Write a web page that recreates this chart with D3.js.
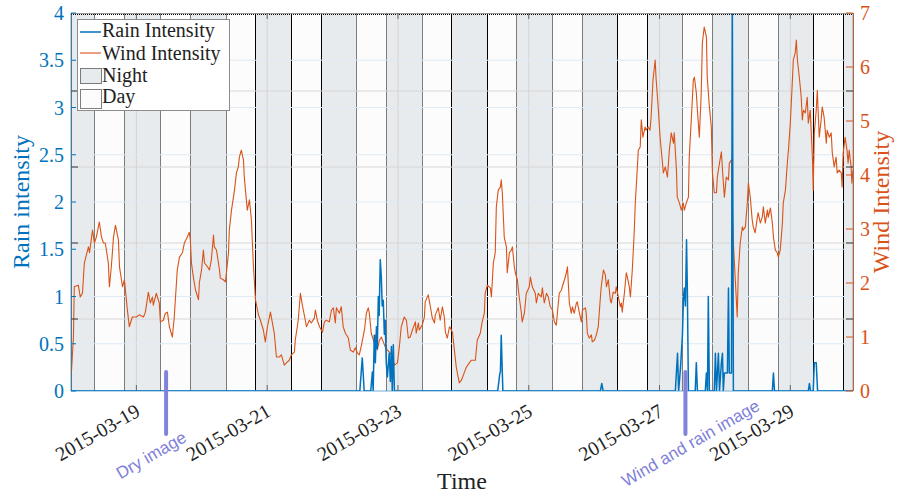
<!DOCTYPE html>
<html><head><meta charset="utf-8">
<script src="https://cdn.jsdelivr.net/npm/d3@7"></script>
<style>
body{margin:0;background:#fff;}
svg{display:block;}
</style></head><body>
<svg id="chart" width="897" height="495"></svg>
<script>
// ---------------- DATA ----------------
const startTime = "2015-03-18T00:00:00Z";
const endHour = 287; // hours after start
// wind intensity: [hours after start, value]
const windData = [
[0.1,0.30],[0.9,1.00],[1.2,1.93],[2.7,1.96],[3.4,1.74],[4.2,1.81],[4.9,2.37],[6.4,2.67],[6.8,2.56],[7.9,2.98],
[8.6,2.74],[9.3,2.85],[10.4,3.13],[11.2,2.85],[11.9,2.74],[12.6,2.74],[13.7,2.37],[14.1,1.93],[14.8,2.30],[15.6,2.85],
[16.3,3.07],[17.4,2.80],[17.8,2.30],[18.9,1.93],[19.6,2.06],[20.7,1.50],[21.4,1.19],[22.5,1.37],[24.0,1.37],[25.1,1.41],
[26.6,1.37],[27.3,1.46],[28.4,1.83],[29.1,1.63],[29.9,1.74],[30.2,1.59],[31.3,1.81],[32.4,1.63],[32.8,1.28],[33.9,1.31],
[34.6,1.44],[35.4,1.46],[36.1,1.19],[37.2,1.00],[37.9,1.37],[39.0,2.24],[39.8,2.48],[40.9,2.56],[41.6,2.74],[42.7,2.85],
[43.4,2.94],[43.8,2.80],[44.2,2.37],[44.9,2.11],[45.7,1.87],[46.8,1.69],[47.1,2.00],[47.9,2.24],[48.6,2.61],[49.0,2.37],
[50.1,2.30],[50.8,2.24],[51.5,2.43],[52.3,2.89],[52.6,2.67],[53.4,2.61],[54.5,2.24],[54.8,2.09],[55.9,2.06],[56.7,2.02],
[57.8,2.56],[58.1,2.98],[58.9,3.35],[60.0,3.72],[60.7,4.04],[61.4,4.15],[61.8,4.33],[62.5,4.46],[63.3,4.28],[63.6,3.96],
[64.7,3.35],[65.5,3.54],[66.2,3.17],[66.9,2.37],[67.7,1.69],[68.8,1.41],[69.5,1.31],[70.6,1.13],[71.3,0.91],[72.1,1.19],
[73.2,1.46],[74.6,1.07],[75.4,0.63],[76.5,0.63],[77.2,0.67],[78.3,0.48],[79.0,0.52],[80.1,0.57],[80.9,0.67],[82.0,0.72],
[82.3,0.94],[83.4,1.31],[84.2,1.81],[84.9,1.59],[86.0,1.31],[86.4,1.19],[87.5,1.31],[88.2,1.26],[89.3,1.35],[89.7,1.50],
[90.4,1.31],[91.2,1.19],[92.3,1.09],[93.0,1.28],[93.7,1.31],[94.8,1.28],[95.6,1.50],[96.3,1.54],[97.0,1.26],[97.4,1.54],
[98.5,1.44],[99.2,1.56],[99.9,1.19],[100.7,1.07],[101.8,0.98],[102.5,0.76],[103.6,0.72],[104.4,0.80],[105.1,0.70],[105.8,0.67],
[106.6,0.85],[107.7,1.13],[108.4,1.44],[109.1,1.54],[109.5,1.44],[110.2,1.07],[111.3,0.89],[111.7,1.04],[112.4,0.76],[113.2,0.94],
[113.9,1.00],[114.6,0.91],[115.4,0.81],[116.1,0.76],[117.2,0.70],[117.9,0.63],[118.7,0.48],[119.8,0.52],[120.5,0.81],[121.2,1.19],
[122.3,1.37],[123.1,1.31],[123.8,0.98],[124.5,1.00],[125.3,1.13],[126.4,1.28],[126.7,1.07],[127.5,1.26],[127.8,1.13],[128.9,1.22],
[129.7,1.37],[130.0,1.65],[131.1,1.78],[131.9,1.56],[132.6,1.35],[133.4,1.26],[133.7,1.41],[134.8,1.54],[135.5,1.31],[136.3,1.56],
[137.0,1.37],[137.4,1.09],[138.1,0.98],[138.9,1.19],[139.2,1.17],[140.0,1.09],[140.7,0.76],[141.4,0.44],[142.5,0.15],[143.3,0.20],
[144.4,0.35],[145.1,0.44],[146.2,0.52],[146.9,0.57],[148.4,0.57],[149.1,0.94],[150.2,1.07],[150.9,1.28],[151.7,1.44],[152.0,1.81],
[152.8,1.96],[153.9,1.91],[154.3,1.74],[155.0,2.37],[155.7,2.56],[156.1,3.41],[156.8,3.72],[157.6,3.78],[157.9,3.91],[158.3,3.67],
[159.0,2.85],[159.8,2.67],[160.1,2.19],[160.9,2.56],[161.6,2.61],[162.0,2.67],[162.7,2.30],[163.1,2.19],[163.8,2.06],[164.5,1.74],
[165.3,1.44],[165.6,1.28],[166.4,1.44],[167.1,1.81],[168.2,1.93],[168.6,2.11],[169.3,1.93],[170.4,1.81],[170.8,1.63],[171.5,1.81],
[172.6,1.74],[173.0,1.91],[173.7,1.63],[174.5,1.81],[175.2,1.74],[175.9,1.56],[176.7,1.50],[177.4,1.28],[178.1,1.22],[178.5,1.44],
[179.2,1.81],[180.0,1.87],[180.3,1.93],[181.1,2.06],[181.8,2.19],[182.2,2.30],[182.9,1.63],[183.6,1.44],[184.0,1.56],[184.7,1.44],
[185.5,1.63],[185.8,1.65],[186.6,1.44],[187.3,1.28],[187.7,1.50],[188.8,1.54],[189.1,1.44],[189.5,1.07],[190.2,0.98],[191.0,1.04],
[191.3,0.91],[192.1,0.94],[192.8,1.04],[193.5,1.19],[194.3,1.74],[194.6,1.93],[195.4,2.24],[196.1,2.15],[196.5,1.93],[197.2,2.06],
[197.9,1.69],[198.3,1.63],[199.0,1.83],[199.8,1.81],[200.1,1.93],[200.9,1.74],[201.6,1.56],[202.0,1.63],[202.3,1.46],[203.1,1.81],
[203.8,2.19],[204.2,2.11],[204.9,1.93],[205.3,1.74],[206.0,2.24],[206.7,2.93],[207.1,3.48],[207.8,4.09],[208.2,4.46],[208.9,4.52],
[209.3,5.02],[209.9,4.70],[210.7,4.89],[211.0,4.83],[211.8,4.89],[212.5,4.83],[212.9,5.07],[213.6,5.76],[214.4,6.13],[214.7,5.81],
[215.5,5.26],[216.2,4.70],[217.4,4.04],[218.1,4.15],[218.9,3.96],[219.6,4.46],[220.3,4.78],[221.1,4.59],[221.4,4.78],[222.2,4.09],
[222.5,3.59],[223.3,3.48],[224.0,3.35],[224.7,3.48],[225.1,3.35],[225.8,3.48],[226.6,3.59],[226.9,4.33],[227.7,5.07],[228.4,5.76],
[228.8,5.81],[229.5,5.52],[229.9,5.20],[230.6,4.70],[231.3,5.52],[231.7,6.44],[232.4,6.74],[233.2,6.56],[233.5,5.81],[234.3,5.26],
[235.0,4.89],[235.4,4.04],[236.1,3.67],[236.9,3.67],[237.2,3.96],[238.0,4.22],[238.7,4.43],[239.1,4.09],[239.8,3.59],[240.5,3.96],
[241.3,3.91],[241.6,4.22],[242.4,4.28],[242.7,3.48],[243.1,2.74],[243.8,2.06],[244.5,1.37],[244.9,2.19],[245.6,2.74],[246.4,3.04],
[246.7,2.98],[247.5,3.04],[248.2,3.48],[248.6,3.85],[249.3,3.59],[250.0,3.17],[250.4,3.04],[251.1,2.93],[251.9,3.22],[252.2,3.30],
[253.0,3.11],[253.7,3.22],[254.1,3.41],[254.8,3.11],[255.6,3.35],[255.9,3.22],[256.7,3.39],[257.4,3.11],[257.8,2.85],[258.5,2.61],
[259.2,2.56],[259.6,2.48],[260.3,2.61],[261.1,3.11],[261.4,3.48],[262.2,3.72],[262.9,4.22],[263.3,4.46],[264.0,4.96],[264.7,5.70],
[265.1,6.13],[265.8,6.26],[266.2,6.50],[266.6,6.13],[267.3,5.81],[268.0,5.44],[268.4,5.02],[268.8,5.20],[269.5,5.15],[270.2,5.44],
[270.6,4.96],[271.3,5.20],[272.1,4.33],[272.4,3.72],[272.8,4.78],[273.5,5.20],[273.9,5.57],[274.6,4.70],[275.3,5.02],[275.7,5.26],
[276.4,5.07],[277.2,4.59],[277.5,4.83],[278.3,4.70],[279.0,4.78],[279.4,4.41],[280.1,4.15],[280.8,4.33],[281.2,4.04],[281.9,4.09],
[282.7,4.04],[283.0,3.78],[283.4,4.41],[284.1,4.70],[284.8,4.46],[285.2,4.22],[285.6,4.46],[286.3,4.15],[286.6,3.85],[287.0,4.09]
];
// rain intensity: [hours after start, value]
const rainData = [
[0,0],[106.0,0],[106.9,0.35],[107.6,0],[110.0,0],[110.6,0.2],[110.9,0],[111.3,0.59],[111.7,0.3],[112.1,0.68],
[112.4,0.45],[112.8,1.0],[113.1,0.8],[113.5,1.39],[113.9,1.2],[114.2,0.9],[114.6,0.96],[115.0,0.6],[115.3,0.75],[115.7,0.3],
[116.1,0.15],[116.8,0.4],[117.2,0.1],[117.6,0.47],[117.9,0],[118.3,0.49],[118.7,0],
[156.6,0],[157.4,0.19],[157.6,0.2],[157.9,0.59],[158.5,0],
[194.3,0],[194.8,0.08],[195.3,0],
[221.8,0],[222.6,0.40],[223.0,0],[223.7,0.25],[224.4,0.59],[224.8,1.0],[225.1,1.09],[225.5,0.9],[225.9,1.60],[226.2,1.09],[226.6,0],
[229.1,0],[229.5,0.30],[229.9,0],
[232.8,0],[233.2,0.19],[233.6,0],[233.9,1.0],[234.3,0],
[236.1,0],[236.5,0.40],[236.9,0],[237.6,0.40],[238.0,0],[238.7,0.30],[239.1,0.40],[239.4,0],[239.8,0.19],[240.2,0.19],
[240.9,0.19],[241.3,1.09],[241.6,0.19],[242.4,0.19],[242.7,4.3],[243.1,0],
[257.4,0],[257.8,0.19],[258.2,0],
[270.6,0],[271.0,0.08],[271.4,0],
[272.4,0],[272.8,0.30],[273.5,0.30],[274.0,0],[287,0]
];
// sunrise / sunset (hour of day) for each of the 12 days
const sunriseHours = [8.6,8.7,8.8,8.6,8.7,8.7,8.5,8.6,8.5,8.4,8.3,8.4];
const sunsetHours  = [19.6,19.7,19.7,19.6,19.6,19.6,19.5,19.6,19.5,19.4,19.3,19.4];
const dateTicks = ["2015-03-19","2015-03-21","2015-03-23","2015-03-25","2015-03-27","2015-03-29"];
const rainTicks = [0,0.5,1,1.5,2,2.5,3,3.5,4];
const windTicks = [0,1,2,3,4,5,6,7];
const patchGridTicks = [0.2,0.4,0.6,0.8];
const annotations = [
  {label:"Dry image", hour:34.9},
  {label:"Wind and rain image", hour:225.5}
];
const legendItems = ["Rain Intensity","Wind Intensity","Night","Day"];

// ---------------- DRAW ----------------
const BLUE = "#0072BD", ORANGE = "#D95319";
const NIGHT = "#e8ebee", DAY = "#fcfcfc";
const SERIF = "'Liberation Serif','Times New Roman',serif";
const SANS = "'Liberation Sans',Arial,sans-serif";
const svg = d3.select("#chart");
const L = 71, R = 853, T = 13, B = 391;
const t0 = new Date(startTime);
const toDate = h => new Date(t0.getTime() + h * 3600e3);

const x = d3.scaleUtc().domain([toDate(0), toDate(endHour)]).range([L, R]);
const yL = d3.scaleLinear().domain([0, 4]).range([B, T]);
const yR = d3.scaleLinear().domain([0, 7]).range([B, T]);
const yG = d3.scaleLinear().domain([0, 1]).range([395, 15]);
const px = h => Math.round(x(toDate(h))) + 0.5;

svg.append("defs").append("clipPath").attr("id", "plotclip")
  .append("rect").attr("x", L).attr("y", T).attr("width", R - L).attr("height", B - T);

// patches
const patches = [];
let prev = 0;
sunriseHours.forEach((sr, i) => {
  const s = i * 24 + sr, e = i * 24 + sunsetHours[i];
  patches.push({a: prev, b: s, night: true});
  patches.push({a: s, b: e, night: false});
  prev = e;
});
patches.push({a: prev, b: endHour, night: true});

const gp = svg.append("g");
const pTop = Math.round(yL(4)) + 0.5, pBot = Math.round(yL(0)) - 0.5;
gp.selectAll("rect").data(patches).join("rect")
  .attr("x", d => px(d.a))
  .attr("y", pTop)
  .attr("width", d => px(d.b) - px(d.a))
  .attr("height", pBot - pTop)
  .attr("fill", d => d.night ? NIGHT : DAY);
// patch edges (dotted; where two dotted edges meet out of phase they read as solid)
const edges = [0].concat(patches.map(d => d.b));
gp.selectAll("line.edge").data(edges).join("line")
  .attr("x1", d => px(d)).attr("x2", d => px(d))
  .attr("y1", pTop).attr("y2", pBot)
  .attr("stroke", "#000").attr("stroke-width", 1)
  .attr("stroke-dasharray", d => (Math.round(x(toDate(d))) % 2 === 1 && d > 0 && d < endHour) ? null : "1,1");
gp.append("line").attr("x1", L).attr("x2", R).attr("y1", pTop + 1).attr("y2", pTop + 1)
  .attr("stroke", "#000").attr("stroke-width", 1).attr("stroke-dasharray", "1,1");

// grids
const gg = svg.append("g");
gg.selectAll("line.gx").data(dateTicks).join("line")
  .attr("x1", d => x(new Date(d + "T00:00:00Z"))).attr("x2", d => x(new Date(d + "T00:00:00Z")))
  .attr("y1", T).attr("y2", B).attr("stroke", "#cfcfcf").attr("stroke-width", 1).attr("opacity", 0.8);
gg.selectAll("line.gl").data(rainTicks.slice(1, -1)).join("line")
  .attr("x1", L).attr("x2", R).attr("y1", d => yL(d)).attr("y2", d => yL(d))
  .attr("stroke", "#dfeaf4").attr("stroke-width", 1);
gg.selectAll("line.gg").data(patchGridTicks).join("line")
  .attr("x1", L).attr("x2", R).attr("y1", d => yG(d)).attr("y2", d => yG(d))
  .attr("stroke", "#d6d6d6").attr("stroke-width", 1);

// lines
const gl = svg.append("g").attr("clip-path", "url(#plotclip)");
gl.append("path").datum(windData)
  .attr("d", d3.line().x(d => x(toDate(d[0]))).y(d => yR(d[1])))
  .attr("fill", "none").attr("stroke", ORANGE).attr("stroke-width", 1.1).attr("stroke-linejoin", "round");
gl.append("path").datum(rainData)
  .attr("d", d3.line().x(d => x(toDate(d[0]))).y(d => yL(d[1])))
  .attr("fill", "none").attr("stroke", BLUE).attr("stroke-width", 1.5).attr("stroke-linejoin", "round");

// axes frame
const ga = svg.append("g");
ga.append("line").attr("x1", L).attr("x2", R).attr("y1", T + 0.5).attr("y2", T + 0.5).attr("stroke", "#808080").attr("stroke-width", 0.8);
ga.append("line").attr("x1", L).attr("x2", R).attr("y1", B).attr("y2", B).attr("stroke", BLUE).attr("stroke-width", 0.8).attr("opacity", 0.7);
ga.append("line").attr("x1", L).attr("x2", L).attr("y1", T).attr("y2", B).attr("stroke", BLUE).attr("stroke-width", 0.9).attr("opacity", 0.7);
ga.append("line").attr("x1", R).attr("x2", R).attr("y1", T).attr("y2", B).attr("stroke", ORANGE).attr("stroke-width", 0.9).attr("opacity", 0.7);

// left ticks + labels
ga.selectAll("line.lt").data(rainTicks).join("line")
  .attr("x1", L).attr("x2", L + 5).attr("y1", d => yL(d)).attr("y2", d => yL(d))
  .attr("stroke", BLUE).attr("stroke-width", 1);
ga.selectAll("text.ll").data(rainTicks).join("text")
  .attr("x", L - 7).attr("y", d => yL(d)).attr("dy", "0.35em")
  .attr("text-anchor", "end").attr("font-family", SERIF).attr("font-size", 20)
  .attr("fill", BLUE).text(d => d3.format("")(d));
// right ticks + labels
ga.selectAll("line.rt").data(windTicks).join("line")
  .attr("x1", R).attr("x2", R - 7).attr("y1", d => yR(d)).attr("y2", d => yR(d))
  .attr("stroke", ORANGE).attr("stroke-width", 1);
ga.selectAll("text.rl").data(windTicks).join("text")
  .attr("x", R + 7).attr("y", d => yR(d)).attr("dy", "0.35em")
  .attr("text-anchor", "start").attr("font-family", SERIF).attr("font-size", 20)
  .attr("fill", ORANGE).text(d => d);
// patch-axis ticks
[L, R].forEach((p, i) => {
  ga.selectAll("line.pt" + i).data(patchGridTicks).join("line")
    .attr("x1", p).attr("x2", i ? p - 7 : p + 7).attr("y1", d => yG(d)).attr("y2", d => yG(d))
    .attr("stroke", "#333").attr("stroke-width", 1);
});
// x ticks
dateTicks.forEach(d => {
  const tx = x(new Date(d + "T00:00:00Z"));
  ga.append("line").attr("x1", tx).attr("x2", tx).attr("y1", T).attr("y2", T + 6).attr("stroke", "#666");
  ga.append("line").attr("x1", tx).attr("x2", tx).attr("y1", B).attr("y2", B - 6).attr("stroke", "#666");
  ga.append("text").attr("transform", `translate(${tx + 5},${B + 24}) rotate(-30)`)
    .attr("text-anchor", "end").attr("font-family", SERIF).attr("font-size", 20)
    .attr("fill", "#222").text(d);
});

// axis titles
svg.append("text").attr("transform", `translate(21,${(T + B) / 2}) rotate(-90)`)
  .attr("text-anchor", "middle").attr("dy", "0.35em").attr("font-family", SERIF).attr("font-size", 24)
  .attr("fill", BLUE).text("Rain intensity");
svg.append("text").attr("transform", `translate(881,${(T + B) / 2}) rotate(-90)`)
  .attr("text-anchor", "middle").attr("dy", "0.35em").attr("font-family", SERIF).attr("font-size", 24)
  .attr("fill", ORANGE).text("Wind Intensity");
svg.append("text").attr("x", (L + R) / 2).attr("y", 489)
  .attr("text-anchor", "middle").attr("font-family", SERIF).attr("font-size", 24)
  .attr("fill", "#222").text("Time");

// annotations
const textOffsets = [[-15, 19], [5, 7]];
annotations.forEach((a, i) => {
  const ax = x(toDate(a.hour));
  svg.append("line").attr("x1", ax).attr("x2", ax).attr("y1", 372).attr("y2", 434)
    .attr("stroke", "#8282d8").attr("stroke-width", 4).attr("stroke-linecap", "round");
  svg.append("text")
    .attr("transform", `translate(${ax + textOffsets[i][0]},${436 + textOffsets[i][1]}) rotate(-30)`)
    .attr("text-anchor", "middle").attr("dy", "0.35em")
    .attr("font-family", SANS).attr("font-size", 17).attr("fill", "#7f7fd8").text(a.label);
});

// legend
const lg = svg.append("g");
lg.append("rect").attr("x", 77.5).attr("y", 19.5).attr("width", 152).attr("height", 91)
  .attr("fill", "#fff").attr("stroke", "#8c8c8c").attr("stroke-width", 1);
lg.append("line").attr("x1", 80).attr("x2", 101).attr("y1", 32).attr("y2", 32).attr("stroke", BLUE).attr("stroke-width", 1.5);
lg.append("line").attr("x1", 80).attr("x2", 101).attr("y1", 53).attr("y2", 53).attr("stroke", ORANGE).attr("stroke-width", 1.1);
lg.append("rect").attr("x", 80.5).attr("y", 68.5).attr("width", 21).attr("height", 15)
  .attr("fill", NIGHT).attr("stroke", "#000").attr("stroke-dasharray", "1,1");
lg.append("rect").attr("x", 80.5).attr("y", 89.5).attr("width", 21).attr("height", 19)
  .attr("fill", DAY).attr("stroke", "#000").attr("stroke-dasharray", "1,1");
const lys = [37, 60, 82, 103];
lg.selectAll("text").data(legendItems).join("text")
  .attr("x", 102).attr("y", (d, i) => lys[i])
  .attr("font-family", SERIF).attr("font-size", 20).attr("fill", "#222").text(d => d);
</script>
</body></html>
